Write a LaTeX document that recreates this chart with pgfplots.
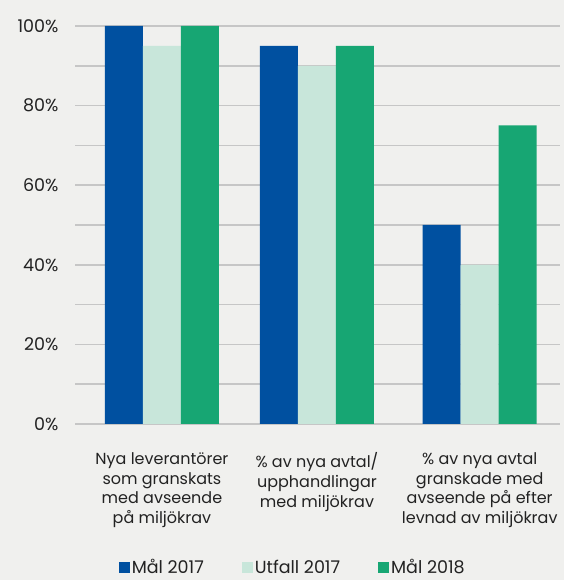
\documentclass[border=0pt]{standalone}
\usepackage{pgfplots}
\pgfplotsset{compat=1.18}
\usepackage{fontspec}
\setmainfont{Poppins}
\definecolor{bg}{HTML}{F0F0EE}
\definecolor{cblue}{HTML}{0050A0}
\definecolor{cmint}{HTML}{C8E6DA}
\definecolor{cgreen}{HTML}{17A673}
\definecolor{cgrid}{HTML}{C6C6C6}
\definecolor{ctext}{HTML}{222222}
\begin{document}
\begin{tikzpicture}[font=\fontsize{16}{19.8}\selectfont, text=ctext]
\fill[bg] (0,0) rectangle (564pt,580pt);
\begin{axis}[
  at={(75pt,156pt)}, anchor=south west,
  scale only axis, width=485pt, height=398pt,
  xmin=-0.561, xmax=2.568, ymin=0, ymax=100,
  ybar=0pt, bar width=38pt,
  axis line style={draw=none},
  major tick length=0pt, minor tick length=0pt,
  ytick={0,20,40,60,80,100}, minor ytick={10,30,50,70,90},
  ymajorgrids, yminorgrids,
  major grid style={cgrid, line width=1.6pt},
  minor grid style={cgrid, line width=1.6pt},
  yticklabel={\pgfmathprintnumber{\tick}\%},
  /pgf/number format/assume math mode=true,
  yticklabel style={font=\fontsize{17.5}{20}\selectfont, xshift=-13pt},
  xtick={0,1,2.05},
  xticklabels={{Nya leverantörer\\som granskats\\med avseende\\på miljökrav},
    {\% av nya avtal/\\upphandlingar\\med miljökrav},
    {\% av nya avtal\\granskade med\\avseende på efter\\levnad av miljökrav}},
  xticklabel style={align=center, anchor=north, yshift=-25pt},
  clip=false,
  legend columns=3,
  legend style={at={(0.449,-0.36)}, anchor=center, draw=none, fill=none,
    font=\fontsize{17.5}{19}\selectfont,
    /tikz/every even column/.append style={column sep=36pt}},
  legend image code/.code={\fill[#1] (-8pt,-5.5pt) rectangle (3pt,5.5pt);},
]
\addplot[fill=cblue, draw=none] coordinates {(0,100) (1,95) (2.05,50)};
\addplot[fill=cmint, draw=none] coordinates {(0,95) (1,90) (2.05,40)};
\addplot[fill=cgreen, draw=none] coordinates {(0,100) (1,95) (2.05,75)};
\legend{Mål 2017, Utfall 2017, Mål 2018}
\end{axis}
\pgfresetboundingbox
\useasboundingbox (0,0) rectangle (564pt,580pt);
\end{tikzpicture}
\end{document}
